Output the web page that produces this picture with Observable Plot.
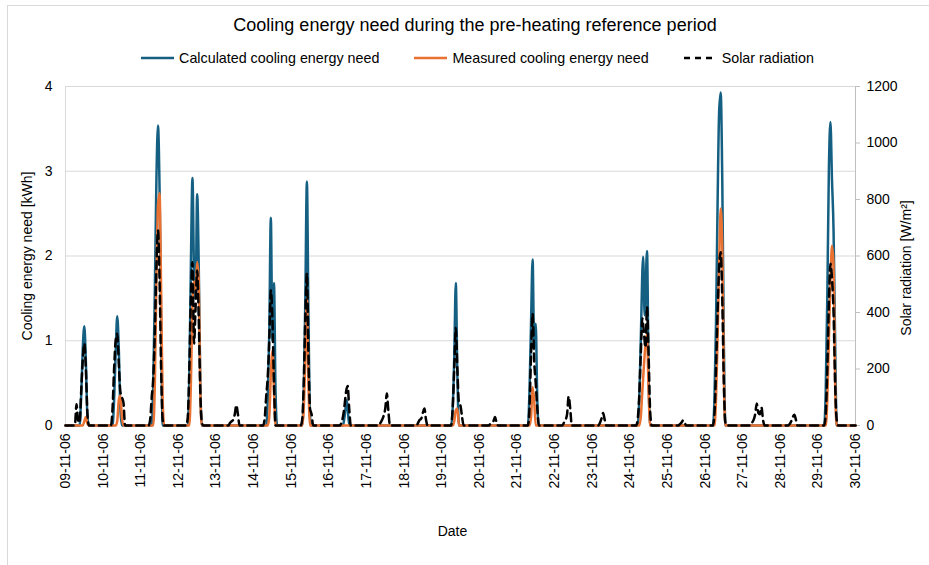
<!DOCTYPE html>
<html>
<head>
<meta charset="utf-8">
<script src="https://cdn.jsdelivr.net/npm/d3@7"></script>
<script src="https://cdn.jsdelivr.net/npm/@observablehq/plot@0.6"></script>
<style>
  body { margin: 0; background: #fff; font-family: "Liberation Sans", Arial, sans-serif; color: #000; }
  #wrap { position: relative; width: 929px; height: 565px; overflow: hidden; background: #fff; }
  #frame { position: absolute; left: 7px; top: 5px; width: 1000px; height: 1000px;
           border-left: 1px solid #d9d9d9; border-top: 1px solid #d9d9d9; pointer-events: none; }
  #title { position: absolute; top: 14px; left: 0; width: 950px; text-align: center;
           font-size: 18px; line-height: 22px; }
  #legend { position: absolute; top: 49px; left: 0; width: 955px; display: flex;
            justify-content: center; align-items: center; font-size: 14.3px; line-height: 18px; }
  .item { display: flex; align-items: center; margin: 0 17.5px; }
  .item svg { margin-right: 5px; }
  #chart { position: absolute; left: 0; top: 0; }
</style>
</head>
<body>
<div id="wrap">
  <div id="chart"></div>
  <div id="frame"></div>
  <div id="title">Cooling energy need during the pre-heating reference period</div>
  <div id="legend"></div>
</div>
<script>
// Hours counted from 09-11-2006 00:00 and the value at that hour.
const calculatedKWh = [
  [0,0],[9,0],[10,0.35],[11,0.9],[12,1.17],[13,0.75],[14,0.1],[15,0],
  [30,0],[31,0.3],[32,0.85],[33,1.29],[34,0.9],[35,0.2],[36,0],
  [55,0],[56,0.5],[57,1.6],[58,2.9],[59,3.54],[60,2.8],[61,1.2],[62,0],
  [78,0],[79,0.6],[80,1.9],[81,2.92],[82,1.8],[83,1.5],[84,2.73],[85,1.9],[86,0.5],[87,0],
  [128,0],[129,0.3],[130,1.1],[131,2.45],[132,1.0],[133,1.68],[134,0.4],[135,0],
  [151,0],[152,0.4],[153,1.5],[154,2.88],[155,1.3],[156,0.1],[157,0],
  [177,0],[178,0.1],[179.5,0.3],[181,0],
  [246,0],[247,0.2],[248,0.8],[249,1.68],[250,0.6],[251,0],
  [295,0],[296,0.4],[297,1.2],[298,1.96],[299,0.9],[300,1.2],[301,0.3],[302,0],
  [365,0],[366,0.3],[367,1.0],[368.5,1.99],[369.5,1.3],[371,2.06],[372,0.6],[373,0],
  [413,0],[414,0.3],[415,1.2],[416,2.6],[417,3.7],[418,3.93],[419,2.9],[420,1.0],[421,0],
  [484,0],[485,0.4],[486,1.5],[487,3.0],[488,3.58],[489,2.9],[490,2.3],[491,1.0],[492,0],[504,0]
];

const measuredKWh = [
  [0,0],[11,0],[12,0.05],[13,0.1],[14,0.02],[15,0],
  [32,0],[33,0.05],[34,0.3],[35,0.35],[36,0.1],[37,0],
  [56,0],[57,0.5],[58,1.7],[59,2.6],[60,2.74],[61,1.6],[62,0.3],[63,0],
  [79,0],[80,0.5],[81,1.4],[82,1.7],[83,1.6],[84,1.93],[85,1.7],[86,0.4],[87,0],
  [129,0],[130,0.1],[131,0.6],[132,0.88],[133,0.4],[134,0],
  [151,0],[152,0.2],[153,0.8],[154,1.5],[155,0.5],[156,0],
  [247,0],[248,0.05],[249,0.18],[250,0.2],[251,0],
  [296,0],[297,0.1],[298,0.45],[299,0.3],[300,0],
  [366,0],[367,0.1],[368,0.4],[369,0.7],[370,0.95],[371,1.08],[372,0.4],[373,0],
  [414,0],[415,0.3],[416,1.0],[417,1.9],[418,2.56],[419,2.1],[420,0.6],[421,0],
  [485,0],[486,0.3],[487,1.0],[488,1.7],[489,2.12],[490,1.9],[491,0.5],[492,0],[504,0]
];

const solarWm2 = [
  [0,0],[6,0],[7,75],[8,20],[9,10],[10,120],[11,230],[12,290],[13,200],[14,40],[15,0],
  [29,0],[30,60],[31,200],[32,300],[33,325],[34,220],[35,120],[36,100],[37,80],[38,0],
  [53,0],[54,20],[55,100],[56,170],[57,330],[58,560],[59,690],[60,520],[61,200],[62,20],[63,0],
  [77,0],[78,30],[79,200],[80,450],[81,578],[82,290],[83,420],[84,549],[85,380],[86,120],[87,10],[88,0],
  [104,0],[105,10],[106,15],[107,20],[108,40],[109,72],[110,40],[111,0],
  [126,0],[127,20],[128,100],[129,170],[130,300],[131,478],[132,380],[133,150],[134,0],
  [150,0],[151,20],[152,150],[153,380],[154,538],[155,250],[156,60],[157,40],[158,0],
  [175,0],[176,10],[177,30],[178,70],[179,120],[180,140],[181,60],[182,0],
  [200,0],[201,10],[202,20],[203,35],[204,60],[205,113],[206,50],[207,0],
  [224,0],[225,10],[226,20],[227,25],[228,45],[229,60],[230,20],[231,0],
  [246,0],[247,60],[248,200],[249,345],[250,200],[251,80],[252,70],[253,30],[254,0],
  [270,0],[271,5],[272,10],[273,15],[274,30],[275,10],[276,0],
  [295,0],[296,60],[297,250],[298,396],[299,230],[300,150],[301,60],[302,0],
  [317,0],[318,10],[319,20],[320,40],[321,103],[322,60],[323,0],
  [340,0],[341,10],[342,25],[343,44],[344,20],[345,0],
  [364,0],[365,20],[366,100],[367,250],[368,379],[369,330],[370,276],[371,419],[372,250],[373,50],[374,0],
  [391,0],[392,5],[393,10],[394,18],[395,10],[396,0],
  [413,0],[414,40],[415,200],[416,400],[417,560],[418,613],[419,450],[420,150],[421,10],[422,0],
  [437,0],[438,10],[439,20],[440,40],[441,78],[442,45],[443,40],[444,65],[445,20],[446,0],
  [461,0],[462,5],[463,15],[464,30],[465,38],[466,20],[467,0],
  [484,0],[485,40],[486,200],[487,430],[488,573],[489,520],[490,400],[491,150],[492,20],[493,0],[504,0]
];

const energyTicks = [0, 1, 2, 3, 4];
const radiationTicks = [0, 200, 400, 600, 800, 1000, 1200];
const seriesNames = ["Calculated cooling energy need", "Measured cooling energy need", "Solar radiation"];
const seriesColors = ["#156082", "#E97132", "#000000"];
const axisTitles = {x: "Date", left: "Cooling energy need [kWh]", right: "Solar radiation [W/m²]"};

const start = Date.UTC(2006, 10, 9);
const end = Date.UTC(2006, 10, 30);
const wattsPerKWh = 300; // 1200 W/m² on the right axis lines up with 4 kWh on the left
const toDate = h => new Date(start + h * 3600e3);

const font = `"Liberation Sans", Arial, sans-serif`;
const lineStyle = {curve: "monotone-x", strokeWidth: 2.5, strokeLinejoin: "round"};
const titleStyle = {fontSize: 14, fill: "#000", textAnchor: "middle", lineAnchor: "middle"};

const chart = Plot.plot({
  width: 929,
  height: 565,
  marginTop: 86,
  marginBottom: 140,
  marginLeft: 65,
  marginRight: 74,
  style: {fontFamily: font, fontSize: "14px", color: "#000", background: "transparent"},
  x: {type: "utc", domain: [new Date(start), new Date(end)]},
  y: {domain: [0, 4]},
  marks: [
    Plot.gridY(energyTicks.slice(1), {stroke: "#d9d9d9", strokeOpacity: 1, strokeWidth: 1}),
    Plot.ruleX([new Date(start)], {stroke: "#d9d9d9", strokeWidth: 1}),
    Plot.ruleX([new Date(end)], {stroke: "#bfbfbf", strokeWidth: 1}),
    Plot.axisX({
      ticks: d3.utcDay.every(1),
      tickFormat: d3.utcFormat("%d-%m-%y"),
      tickRotate: -90, tickSize: 0, tickPadding: 8, fontSize: 14, label: null
    }),
    Plot.axisY({
      ticks: energyTicks, tickFormat: d => String(d),
      tickSize: 0, tickPadding: 13, fontSize: 14, label: null
    }),
    Plot.axisY({
      anchor: "right", ticks: radiationTicks.map(v => v / wattsPerKWh),
      tickSize: 4, text: null, stroke: "#bfbfbf", label: null
    }),
    Plot.axisY({
      anchor: "right", ticks: radiationTicks.map(v => v / wattsPerKWh),
      tickFormat: v => String(Math.round(v * wattsPerKWh)),
      tickSize: 0, tickPadding: 11, fontSize: 14, label: null
    }),
    Plot.text([axisTitles.x], {frameAnchor: "bottom", dx: -8, dy: 106, ...titleStyle}),
    Plot.text([axisTitles.left], {frameAnchor: "left", rotate: -90, dx: -38, ...titleStyle}),
    Plot.text([axisTitles.right], {frameAnchor: "right", rotate: -90, dx: 51, dy: 12, ...titleStyle}),
    Plot.line(calculatedKWh, {x: d => toDate(d[0]), y: d => d[1], stroke: seriesColors[0], ...lineStyle}),
    Plot.line(measuredKWh, {x: d => toDate(d[0]), y: d => d[1], stroke: seriesColors[1], ...lineStyle}),
    Plot.line(solarWm2, {x: d => toDate(d[0]), y: d => d[1] / wattsPerKWh, stroke: seriesColors[2],
      strokeDasharray: "8,5", ...lineStyle})
  ]
});
document.getElementById("chart").appendChild(chart);

// Legend row
const legend = d3.select("#legend");
seriesNames.forEach((name, i) => {
  const item = legend.append("div").attr("class", "item");
  const svg = item.append("svg").attr("width", 33).attr("height", 6);
  svg.append("line").attr("x1", 0).attr("x2", 33).attr("y1", 3).attr("y2", 3)
    .attr("stroke", seriesColors[i]).attr("stroke-width", 2.5)
    .attr("stroke-dasharray", i === 2 ? "6,5" : null);
  item.append("span").text(name);
});
</script>
</body>
</html>
